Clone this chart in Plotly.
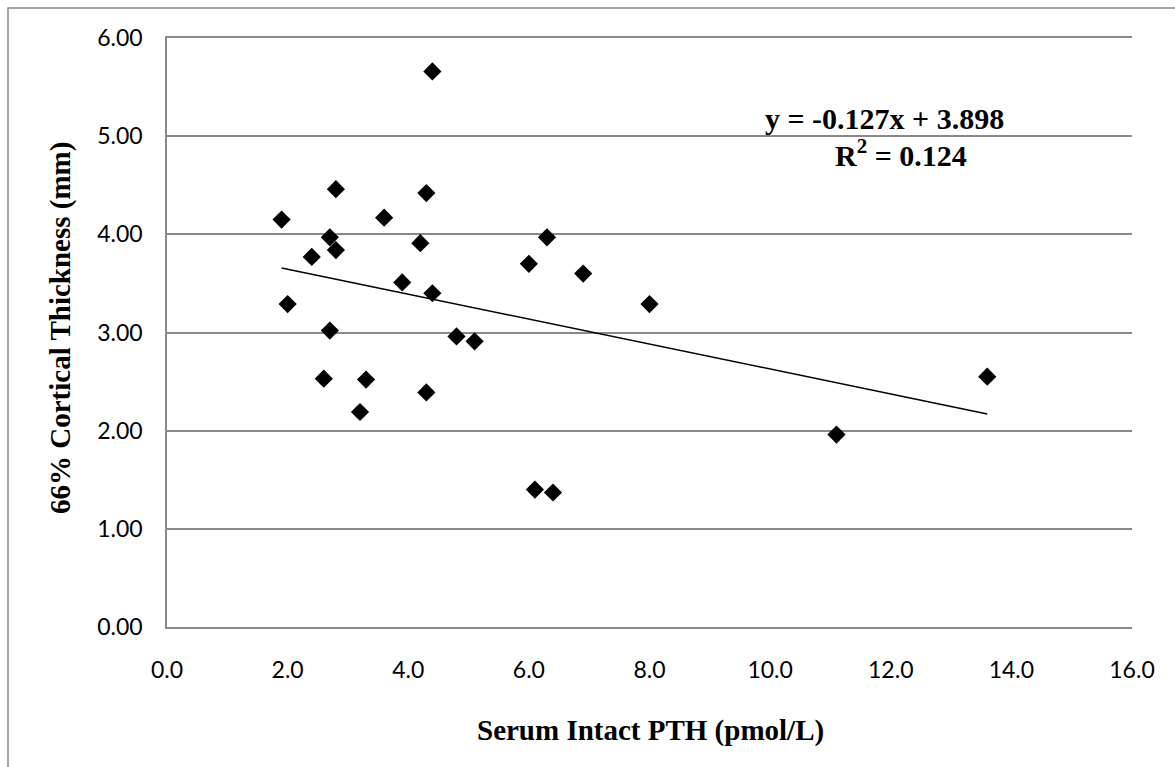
import plotly.graph_objects as go

# Data
pth = [1.9, 2.0, 2.4, 2.6, 2.7, 2.7, 2.8, 2.8, 3.2, 3.3, 3.6, 3.9, 4.2, 4.3,
       4.3, 4.4, 4.4, 4.8, 5.1, 6.0, 6.1, 6.3, 6.4, 6.9, 8.0, 11.1, 13.6]
thickness = [4.15, 3.29, 3.77, 2.53, 3.97, 3.02, 4.46, 3.84, 2.19, 2.52, 4.17,
             3.51, 3.91, 4.42, 2.39, 5.66, 3.40, 2.96, 2.91, 3.70, 1.40, 3.97,
             1.37, 3.60, 3.29, 1.96, 2.55]
slope = -0.127
intercept = 3.898
r_squared = 0.124

x_ticks = [0, 2, 4, 6, 8, 10, 12, 14, 16]
y_ticks = [0, 1, 2, 3, 4, 5, 6]

W, H = 1175, 767
ML, MR, MT, MB = 167, 43, 38, 140
PW, PH = W - ML - MR, H - MT - MB


def px(x):
    return (x - ML) / PW


def py(y):
    return (H - MB - y) / PH


GRAY = "#898989"

fig = go.Figure()
fig.add_trace(go.Scatter(
    x=pth, y=thickness, mode="markers",
    marker=dict(symbol="diamond", size=14, color="black"),
    showlegend=False,
))
x_line = [min(pth), max(pth)]
fig.add_trace(go.Scatter(
    x=x_line, y=[slope * v + intercept for v in x_line], mode="lines",
    line=dict(color="black", width=1.5), showlegend=False,
))

tick_font = dict(family="Lato, Open Sans, sans-serif", size=23, color="black")
title_font = dict(family="Liberation Serif, Times New Roman, serif", size=29, color="black")

fig.update_layout(
    width=W, height=H,
    margin=dict(l=ML, r=MR, t=MT, b=MB),
    paper_bgcolor="white", plot_bgcolor="white",
    xaxis=dict(range=[0, 16], tickvals=x_ticks, tickformat=".1f",
               showgrid=False, zeroline=False, showline=True, mirror=True,
               linecolor=GRAY, linewidth=1.5, ticks="",
               tickfont=tick_font, ticklabelstandoff=22),
    yaxis=dict(range=[0, 6], tickvals=y_ticks, tickformat=".2f",
               showgrid=True, gridcolor=GRAY, gridwidth=1.5,
               zeroline=False, showline=True, linecolor=GRAY, linewidth=1.5,
               ticks="", tickfont=tick_font, ticklabelstandoff=18),
    shapes=[dict(type="rect", xref="paper", yref="paper",
                 x0=px(8), x1=px(1400), y0=py(1000), y1=py(8),
                 line=dict(color=GRAY, width=1.5), layer="below")],
    annotations=[
        dict(text="<b>y = %.3fx + %.3f</b>" % (slope, intercept),
             xref="paper", yref="paper", x=px(884), y=py(119),
             xanchor="center", yanchor="middle", showarrow=False,
             font=dict(family=title_font["family"], size=30, color="black")),
        dict(text="<b>R<sup>2</sup> = %.3f</b>" % r_squared,
             xref="paper", yref="paper", x=px(901), y=py(153),
             xanchor="center", yanchor="middle", showarrow=False,
             font=dict(family=title_font["family"], size=30, color="black")),
        dict(text="<b>Serum Intact PTH (pmol/L)</b>",
             xref="paper", yref="paper", x=px(650), y=py(730),
             xanchor="center", yanchor="middle", showarrow=False,
             font=title_font),
        dict(text="<b>66% Cortical Thickness (mm)</b>",
             xref="paper", yref="paper", x=px(60), y=py(328),
             xanchor="center", yanchor="middle", showarrow=False,
             textangle=-90, font=title_font),
    ],
)

fig.write_html("out.html")
